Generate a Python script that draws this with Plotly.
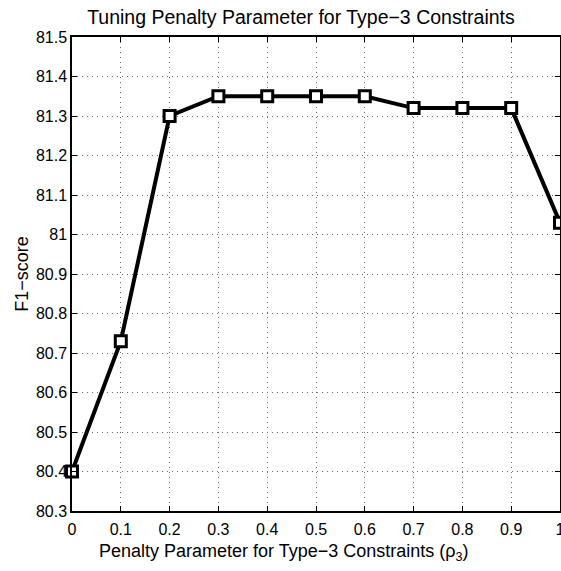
import plotly.graph_objects as go

# Penalty parameter values and resulting F1-scores
rho3 = [0.0, 0.1, 0.2, 0.3, 0.4, 0.5, 0.6, 0.7, 0.8, 0.9, 1.0]
f1_score = [80.40, 80.73, 81.30, 81.35, 81.35, 81.35, 81.35, 81.32, 81.32, 81.32, 81.03]

x_ticks = [0, 0.1, 0.2, 0.3, 0.4, 0.5, 0.6, 0.7, 0.8, 0.9, 1.0]
x_tick_labels = ["0", "0.1", "0.2", "0.3", "0.4", "0.5", "0.6", "0.7", "0.8", "0.9", "1"]
y_ticks = [80.3, 80.4, 80.5, 80.6, 80.7, 80.8, 80.9, 81.0, 81.1, 81.2, 81.3, 81.4, 81.5]
y_tick_labels = ["80.3", "80.4", "80.5", "80.6", "80.7", "80.8", "80.9", "81", "81.1", "81.2", "81.3", "81.4", "81.5"]

FONT = "Liberation Sans, Arial, Helvetica, sans-serif"

fig = go.Figure()
fig.add_trace(go.Scatter(
    x=rho3, y=f1_score,
    mode="lines+markers",
    line=dict(color="black", width=4),
    marker=dict(symbol="square", size=11, color="white",
                line=dict(color="black", width=3)),
    cliponaxis=False,
    showlegend=False,
))

axis_common = dict(
    showgrid=True, gridcolor="#6e6e6e", griddash="1px,4px", gridwidth=1,
    showline=True, linecolor="black", linewidth=1.5, mirror="ticks",
    ticks="inside", ticklen=5, tickcolor="black",
    tickfont=dict(family=FONT, size=16, color="black"),
    ticklabeloverflow="allow",
    automargin=False,
    zeroline=False,
)

fig.update_xaxes(range=[0, 1], tickvals=x_ticks, ticktext=x_tick_labels,
                 ticklabelstandoff=3, **axis_common)
fig.update_yaxes(range=[80.3, 81.5], tickvals=y_ticks, ticktext=y_tick_labels,
                 **axis_common)

# Axis titles placed as annotations
fig.add_annotation(
    text="Penalty Parameter for Type−3 Constraints (ρ<sub>3</sub>)",
    xref="paper", yref="paper", x=0.435, y=-0.088,
    xanchor="center", yanchor="middle", showarrow=False,
    font=dict(family=FONT, size=18, color="black"),
)
fig.add_annotation(
    text="F1−score",
    xref="paper", yref="paper", x=-0.103, y=0.5, textangle=-90,
    xanchor="center", yanchor="middle", showarrow=False,
    font=dict(family=FONT, size=18, color="black"),
)

fig.update_layout(
    width=561, height=571,
    margin=dict(l=72, r=1, t=37, b=60),
    paper_bgcolor="white", plot_bgcolor="white",
    title=dict(text="Tuning Penalty Parameter for Type−3 Constraints",
               font=dict(family=FONT, size=19.5, color="black"),
               x=0.5365, xanchor="center", y=0.97, yanchor="middle"),
)

fig.write_html("out.html")
